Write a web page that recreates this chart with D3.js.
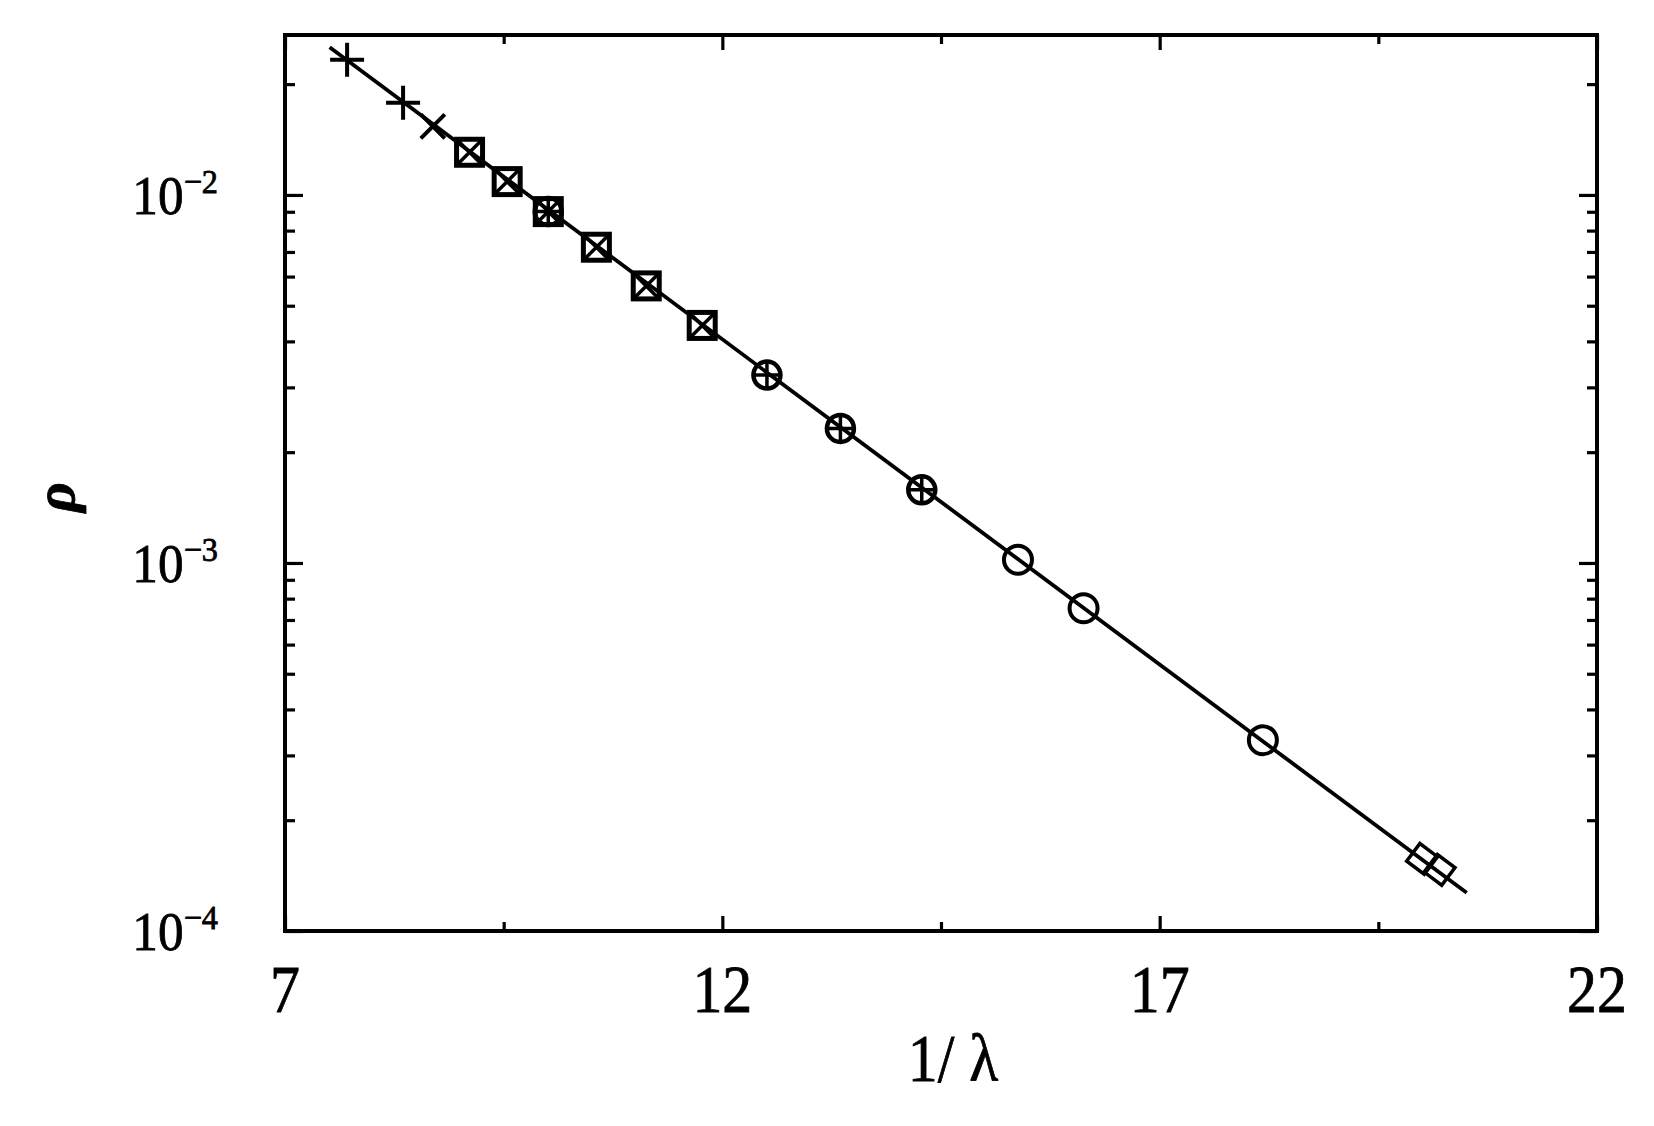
<!DOCTYPE html>
<html>
<head>
<meta charset="utf-8">
<title>rho vs 1/lambda</title>
<style>
  body { margin: 0; background: #fff; }
  svg text { font-family: "Liberation Serif", "Times New Roman", serif; fill: #000; stroke: #000; stroke-width: 0.8px; }
</style>
</head>
<body>
<svg width="1654" height="1126"></svg>
<script src="https://d3js.org/d3.v7.min.js"></script>
<script>

// data: x = 1/lambda, y = rho
var plusX = [7.71, 8.35],
    plusY = [0.0233, 0.0178];
var crossX = [8.69],
    crossY = [0.01535];
var squareX = [9.11, 9.54, 10.01, 10.56, 11.13, 11.77],
    squareY = [0.01306, 0.01087, 0.00901, 0.00721, 0.00566, 0.00442];
var circlePlusX = [10.01, 12.51, 13.35, 14.28],
    circlePlusY = [0.00901, 0.00324, 0.00232, 0.00158];
var circleX = [15.38, 16.13, 18.18],
    circleY = [0.00102, 0.000753, 0.000330];
var diamondX = [20.0, 20.2],
    diamondY = [0.000157, 0.0001466];
// fitted line ends
var fitX = [7.51, 20.51],
    fitY = [0.0252, 0.000127];

var xTicks = [7, 12, 17, 22],
    xMinor = [9.5, 14.5, 19.5];
var yTicks = [1e-4, 1e-3, 1e-2],
    yTickExp = ["\u22124", "\u22123", "\u22122"];

var svg = d3.select("svg");

var pLeft = 285, pRight = 1597, pTop = 35, pBottom = 931;

var x = d3.scaleLinear().domain([7, 22]).range([pLeft, pRight]);
var y = d3.scaleLog().domain([1e-4, 0.0272]).range([pBottom, pTop]);

var yMinor = [];
[1e-4, 1e-3, 1e-2].forEach(function(d) {
  for (var k = 2; k <= 9; k++) {
    if (d * k <= y.domain()[1]) yMinor.push(d * k);
  }
});

function zip(xs, ys) { return xs.map(function(v, i) { return [v, ys[i]]; }); }
function noDomain(g) { g.select(".domain").remove(); }

// ticks, all pointing inward
svg.append("g").attr("transform", "translate(0," + pBottom + ")")
  .call(d3.axisBottom(x).tickValues(xTicks).tickSizeInner(-15).tickSizeOuter(0).tickFormat(""))
  .call(noDomain);
svg.append("g").attr("transform", "translate(0," + pBottom + ")")
  .call(d3.axisBottom(x).tickValues(xMinor).tickSizeInner(-9).tickSizeOuter(0).tickFormat(""))
  .call(noDomain);
svg.append("g").attr("transform", "translate(0," + pTop + ")")
  .call(d3.axisTop(x).tickValues(xTicks).tickSizeInner(-15).tickSizeOuter(0).tickFormat(""))
  .call(noDomain);
svg.append("g").attr("transform", "translate(0," + pTop + ")")
  .call(d3.axisTop(x).tickValues(xMinor).tickSizeInner(-9).tickSizeOuter(0).tickFormat(""))
  .call(noDomain);

svg.append("g").attr("transform", "translate(" + pLeft + ",0)")
  .call(d3.axisLeft(y).tickValues(yTicks).tickSizeInner(-18).tickSizeOuter(0).tickFormat(""))
  .call(noDomain);
svg.append("g").attr("transform", "translate(" + pLeft + ",0)")
  .call(d3.axisLeft(y).tickValues(yMinor).tickSizeInner(-10).tickSizeOuter(0).tickFormat(""))
  .call(noDomain);
svg.append("g").attr("transform", "translate(" + pRight + ",0)")
  .call(d3.axisRight(y).tickValues(yTicks).tickSizeInner(-18).tickSizeOuter(0).tickFormat(""))
  .call(noDomain);
svg.append("g").attr("transform", "translate(" + pRight + ",0)")
  .call(d3.axisRight(y).tickValues(yMinor).tickSizeInner(-10).tickSizeOuter(0).tickFormat(""))
  .call(noDomain);

svg.selectAll(".tick line").attr("stroke", "#000").attr("stroke-width", 3.2);

// frame
svg.append("rect")
  .attr("x", pLeft).attr("y", pTop)
  .attr("width", pRight - pLeft).attr("height", pBottom - pTop)
  .attr("fill", "none").attr("stroke", "#000").attr("stroke-width", 4);

// x tick labels
svg.append("g").selectAll("text")
  .data(xTicks)
  .enter().append("text")
    .attr("transform", function(d) { return "translate(" + x(d) + ",1012) scale(0.88,1)"; })
    .attr("text-anchor", "middle")
    .attr("font-size", 68)
    .text(function(d) { return d; });

// y tick labels 10^n
var yl = svg.append("g").selectAll("text")
  .data(yTicks)
  .enter().append("text")
    .attr("transform", function(d) { return "translate(218," + (y(d) + 19) + ") scale(0.95,1)"; })
    .attr("text-anchor", "end")
    .attr("font-size", 54);
yl.append("tspan").text("10");
yl.append("tspan")
  .attr("font-size", 34)
  .attr("dy", -21)
  .text(function(d, i) { return yTickExp[i]; });

// axis titles
svg.append("text")
  .attr("transform", "translate(953,1081) scale(0.88,1)")
  .attr("text-anchor", "middle")
  .attr("font-size", 68)
  .text("1/ \u03bb");

svg.append("text")
  .attr("transform", "translate(74,497) rotate(-90)")
  .attr("text-anchor", "middle")
  .attr("font-size", 58)
  .attr("font-style", "italic")
  .attr("font-weight", "bold")
  .text("\u03c1");

// fit line
var line = d3.line().x(function(d) { return x(d[0]); }).y(function(d) { return y(d[1]); });
svg.append("path")
  .datum(zip(fitX, fitY))
  .attr("d", line)
  .attr("fill", "none")
  .attr("stroke", "#000")
  .attr("stroke-width", 3.8);

var marks = svg.append("g")
  .attr("fill", "none")
  .attr("stroke", "#000")
  .attr("stroke-width", 4);

// + markers
marks.selectAll(".plus")
  .data(zip(plusX, plusY))
  .enter().append("path")
    .attr("class", "plus")
    .attr("d", function(d) {
      var cx = x(d[0]), cy = y(d[1]), r = 17;
      return "M" + (cx - r) + "," + cy + "H" + (cx + r) + "M" + cx + "," + (cy - r) + "V" + (cy + r);
    });

// x markers
marks.selectAll(".cross")
  .data(zip(crossX, crossY))
  .enter().append("path")
    .attr("class", "cross")
    .attr("d", function(d) {
      var cx = x(d[0]), cy = y(d[1]), r = 12;
      return "M" + (cx - r) + "," + (cy - r) + "L" + (cx + r) + "," + (cy + r) +
             "M" + (cx - r) + "," + (cy + r) + "L" + (cx + r) + "," + (cy - r);
    });

// boxed x markers
var sq = marks.selectAll(".sq")
  .data(zip(squareX, squareY))
  .enter().append("g")
    .attr("class", "sq")
    .attr("transform", function(d) { return "translate(" + x(d[0]) + "," + y(d[1]) + ")"; });
sq.append("rect").attr("x", -13).attr("y", -13).attr("width", 26).attr("height", 26).attr("stroke-width", 5);
sq.append("path").attr("d", "M-11,-11L11,11M-11,11L11,-11").attr("stroke-width", 3.5);

// circles with a cross inside
var cp = marks.selectAll(".cp")
  .data(zip(circlePlusX, circlePlusY))
  .enter().append("g")
    .attr("class", "cp")
    .attr("transform", function(d) { return "translate(" + x(d[0]) + "," + y(d[1]) + ")"; });
cp.append("circle").attr("r", 13.5).attr("stroke-width", 4.5);
cp.append("path").attr("d", "M-12,0H12M0,-12V12").attr("stroke-width", 3.5);

// plain circles
marks.selectAll(".circ")
  .data(zip(circleX, circleY))
  .enter().append("circle")
    .attr("class", "circ")
    .attr("cx", function(d) { return x(d[0]); })
    .attr("cy", function(d) { return y(d[1]); })
    .attr("r", 14);

// tilted squares at the low end
marks.selectAll(".dia")
  .data(zip(diamondX, diamondY))
  .enter().append("rect")
    .attr("class", "dia")
    .attr("x", -11).attr("y", -11).attr("width", 22).attr("height", 22)
    .attr("stroke-width", 3.5)
    .attr("transform", function(d) { return "translate(" + x(d[0]) + "," + y(d[1]) + ") rotate(37)"; });

</script>
</body>
</html>
